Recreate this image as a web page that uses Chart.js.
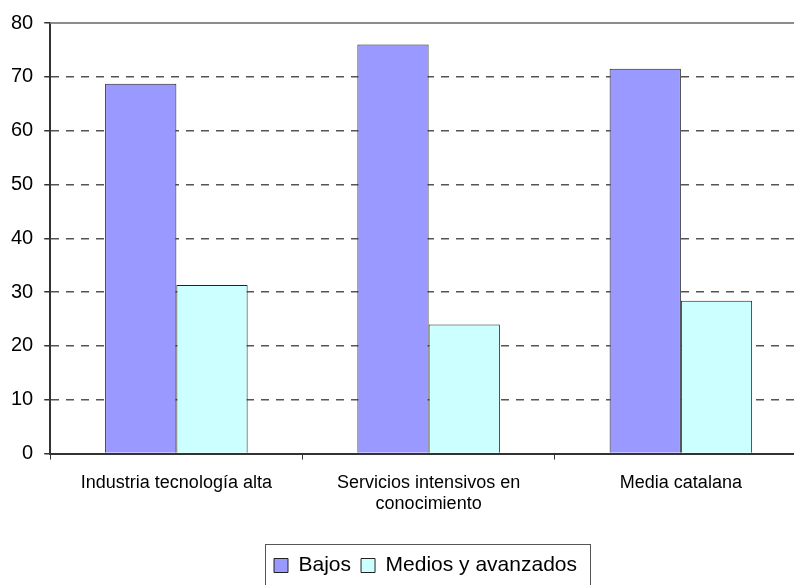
<!DOCTYPE html>
<html>
<head>
<meta charset="utf-8">
<script src="https://cdn.jsdelivr.net/npm/chart.js@4.4.1/dist/chart.umd.min.js"></script>
<style>
  html, body { margin: 0; padding: 0; background: #fff; overflow: hidden; }
  #wrap { position: absolute; left: 0; top: 0; width: 852px; height: 586px; }
</style>
</head>
<body>
<div id="wrap"><canvas id="grafico"></canvas></div>
<script>
// Categorías y series
const categorias = ['Industria tecnología alta', ['Servicios intensivos en', 'conocimiento'], 'Media catalana'];
const bajos = [68.7, 76.0, 71.5];
const mediosAvanzados = [31.3, 24.0, 28.4];
const ticksY = [0, 10, 20, 30, 40, 50, 60, 70, 80];

const fuente = '"Liberation Sans", Arial, sans-serif';
const desplazLeyenda = 22;

// Marco del área de trazado y recuadro de la leyenda
const marcos = {
    id: 'marcos',
    afterLayout(chart) {
        // la leyenda se centra bajo el área de trazado, no bajo el lienzo
        chart.legend.left += desplazLeyenda;
        chart.legend.right += desplazLeyenda;
    },
    afterDraw(chart) {
        const ctx = chart.ctx;
        const a = chart.chartArea;
        ctx.save();
        ctx.strokeStyle = '#8c8c8c';
        ctx.lineWidth = 2;
        ctx.beginPath();
        ctx.moveTo(a.left, a.top);
        ctx.lineTo(a.right, a.top);
        ctx.lineTo(a.right, a.bottom);
        ctx.stroke();

        const ley = chart.legend;
        const pad = ley.options.labels.padding;
        const ancho = ley.lineWidths[0];
        const inicio = (ley.left + pad + ley.right - ancho) / 2;
        const izq = inicio - 9;
        const der = inicio + ancho - pad + 13;
        const centro = ley.top + pad + ley._computeTitleHeight() + ley.legendHitBoxes[0].height / 2;
        ctx.strokeStyle = '#555';
        ctx.lineWidth = 1;
        ctx.strokeRect(Math.round(izq) + 0.5, Math.round(centro - 22) + 0.5, Math.round(der - izq), 50);
        ctx.restore();
    }
};

new Chart(document.getElementById('grafico').getContext('2d'), {
    type: 'bar',
    data: {
        labels: categorias,
        datasets: [{
            label: 'Bajos',
            data: bajos,
            backgroundColor: '#9999ff',
            borderColor: '#222',
            borderWidth: 1,
            borderSkipped: 'bottom'
        }, {
            label: 'Medios y avanzados',
            data: mediosAvanzados,
            backgroundColor: '#ccffff',
            borderColor: '#222',
            borderWidth: 1,
            borderSkipped: 'bottom'
        }]
    },
    plugins: [marcos],
    options: {
        responsive: true,
        maintainAspectRatio: false,
        animation: false,
        categoryPercentage: 0.565,
        barPercentage: 1,
        layout: { padding: { left: 0, top: 3, right: 45, bottom: 0 } },
        plugins: {
            tooltip: { enabled: false },
            legend: {
                position: 'bottom',
                labels: {
                    color: '#000',
                    boxWidth: 14,
                    boxHeight: 14,
                    padding: 10,
                    font: { family: fuente, size: 21 }
                }
            }
        },
        scales: {
            x: {
                afterFit(scale) {
                    scale.height += 17.5;
                },
                grid: {
                    offset: true,
                    drawOnChartArea: false,
                    tickLength: 6,
                    tickColor: '#333'
                },
                border: { color: '#333', width: 2 },
                ticks: {
                    color: '#000',
                    padding: 12,
                    maxRotation: 0,
                    font: { family: fuente, size: 18, lineHeight: 1.22 }
                }
            },
            y: {
                min: 0,
                max: 80,
                afterBuildTicks(scale) {
                    scale.ticks = ticksY.map(v => ({ value: v }));
                },
                grid: {
                    color: c => (c.tick.value === 0 || c.tick.value === 80) ? 'rgba(0,0,0,0)' : '#555',
                    lineWidth: 1.5,
                    tickLength: 6,
                    tickColor: '#333'
                },
                border: { color: '#333', width: 2, dash: [8, 7] },
                ticks: {
                    color: '#000',
                    padding: 11,
                    font: { family: fuente, size: 20 }
                }
            }
        }
    }
});
</script>
</body>
</html>
